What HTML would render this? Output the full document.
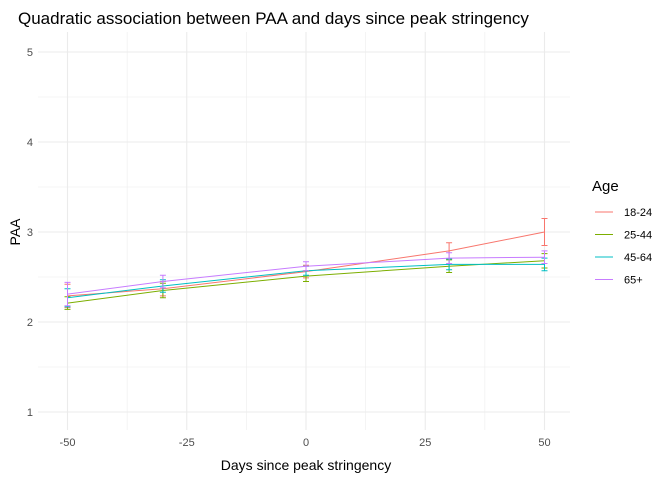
<!DOCTYPE html>
<html><head><meta charset="utf-8"><style>
body{margin:0;background:#fff;font-family:"Liberation Sans",sans-serif}
</style></head><body>
<svg id="c" width="672" height="480" xmlns="http://www.w3.org/2000/svg">
<text x="18" y="24" font-size="17" fill="#000">Quadratic association between PAA and days since peak stringency</text>
<g id="grid"></g><g id="series"></g><g id="axes"></g>
<text x="306" y="470" font-size="14" text-anchor="middle" fill="#000">Days since peak stringency</text>
<text transform="translate(20,232) rotate(-90)" font-size="14" text-anchor="middle" fill="#000">PAA</text>
<text x="592" y="191" font-size="15" fill="#000">Age</text>
<g id="legend"></g>
</svg>
<script>
const xs=[-50,-30,0,30,50];
const groups=["18-24","25-44","45-64","65+"];
const colors=["#F8766D","#7CAE00","#00BFC4","#C77CFF"];
const v1824=[2.29,2.37,2.56,2.79,3.00];
const v2544=[2.21,2.35,2.51,2.62,2.68];
const v4564=[2.27,2.40,2.57,2.64,2.64];
const v65=[2.31,2.45,2.62,2.71,2.72];
const e1824=[0.13,0.08,0.07,0.09,0.15];
const e2544=[0.07,0.08,0.06,0.07,0.08];
const e4564=[0.10,0.07,0.05,0.06,0.07];
const e65=[0.13,0.07,0.05,0.06,0.07];
const xTicks=[-50,-25,0,25,50];
const yTicks=[1,2,3,4,5];
const X=v=>306+v*4.77, Y=v=>412-(v-1)*90;
const NS="http://www.w3.org/2000/svg";
function mk(p,t,a){const e=document.createElementNS(NS,t);for(const k in a)e.setAttribute(k,a[k]);p.appendChild(e);return e;}
const g=document.getElementById('grid'),ax=document.getElementById('axes'),s=document.getElementById('series');
for(let v=-62.5;v<=62.5;v+=12.5){const px=X(v);if(px<38||px>570)continue;const l=mk(g,'line',{x1:px,x2:px,y1:32,y2:430,stroke:'#ebebeb','stroke-width':v%25===0?1.1:0.55});

}
for(let v=0.5;v<=5.5;v+=0.5){const py=Y(v);if(py<32||py>430)continue;const l=mk(g,'line',{x1:38,x2:570,y1:py,y2:py,stroke:'#ebebeb','stroke-width':v%1===0?1.1:0.55});

}
xTicks.forEach(t=>{const e=mk(ax,'text',{x:X(t),y:446,'font-size':11,fill:'#4d4d4d','text-anchor':'middle'});e.textContent=t;

});
yTicks.forEach(t=>{const e=mk(ax,'text',{x:33,y:Y(t)+4,'font-size':11,fill:'#4d4d4d','text-anchor':'end'});e.textContent=t;

});
const vals=[v1824,v2544,v4564,v65],errs=[e1824,e2544,e4564,e65];
vals.forEach((vs,i)=>{
 const pl=mk(s,'polyline',{points:xs.map((x,j)=>X(x)+','+Y(vs[j])).join(' '),fill:'none',stroke:colors[i],'stroke-width':1});
 
 
 xs.forEach((x,j)=>{const px=X(x),lo=Y(vs[j]-errs[i][j]),hi=Y(vs[j]+errs[i][j]);
  const eb=mk(s,'path',{d:`M${px-3},${hi}H${px+3}M${px},${hi}V${lo}M${px-3},${lo}H${px+3}`,stroke:colors[i],'stroke-width':1,fill:'none'});
  
  });
});
const lg=document.getElementById('legend');
groups.forEach((gname,i)=>{const y=212+i*22.5;
 const l=mk(lg,'line',{x1:595,x2:613,y1:y,y2:y,stroke:colors[i],'stroke-width':1});
 
 
 const t=mk(lg,'text',{x:624,y:y+4,'font-size':11,fill:'#000'});t.textContent=gname;
 
 });
</script>
</body></html>
